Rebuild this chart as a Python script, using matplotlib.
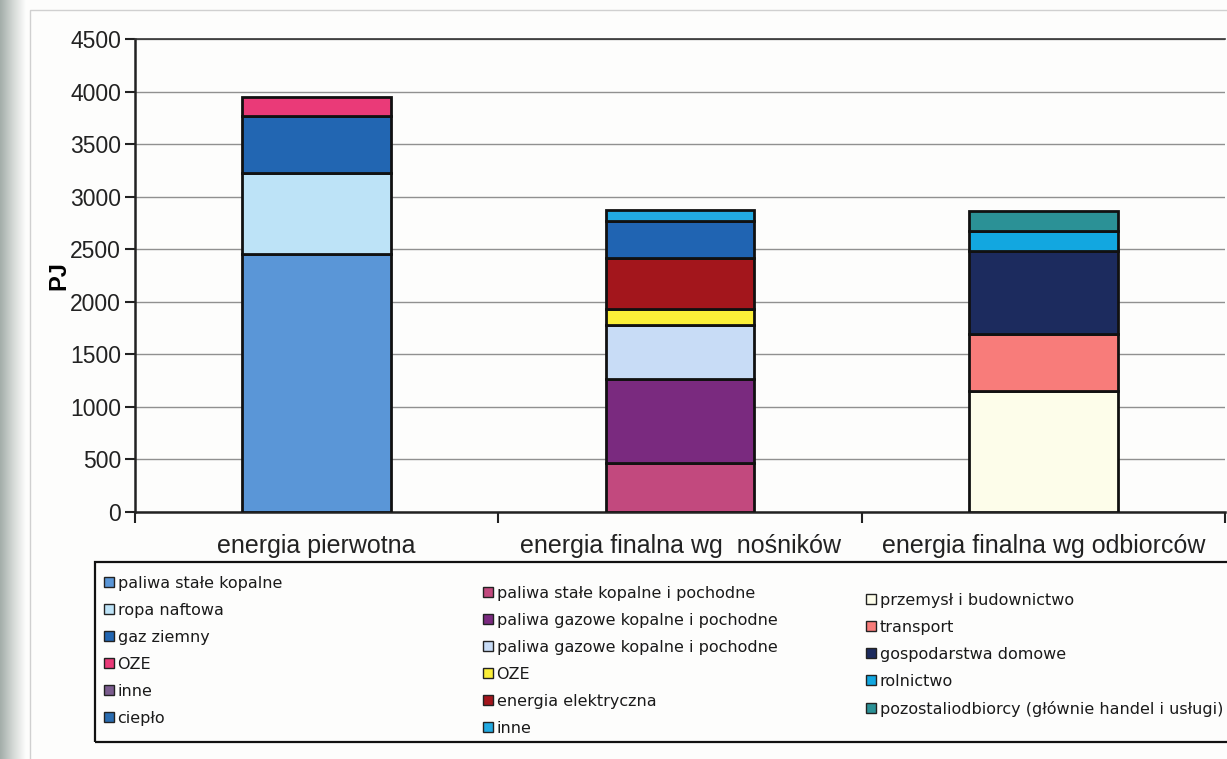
import numpy as np
import matplotlib
matplotlib.use("Agg")
import matplotlib.pyplot as plt
from matplotlib.patches import Patch, Rectangle

# --- data (PJ) ---
categories = ["energia pierwotna", "energia finalna wg  nośników", "energia finalna wg odbiorców"]

primary_labels = ["paliwa stałe kopalne", "ropa naftowa", "gaz ziemny", "OZE", "inne", "ciepło"]
primary_values = [2450, 775, 545, 180, 0, 0]
primary_colors = ["#5a96d7", "#bde3f7", "#2266b2", "#ea3a78", "#7b5c8e", "#2a6cb0"]

carrier_labels = ["paliwa stałe kopalne i pochodne", "paliwa gazowe kopalne i pochodne",
                  "paliwa gazowe kopalne i pochodne", "OZE", "energia elektryczna", "inne"]
carrier_stack_labels = ["paliwa stałe kopalne i pochodne", "paliwa gazowe kopalne i pochodne",
                        "paliwa gazowe kopalne i pochodne", "OZE", "energia elektryczna",
                        "ciepło", "inne"]
carrier_values = [470, 800, 510, 155, 480, 350, 105]
carrier_colors = ["#c2497e", "#7a2a7f", "#c8dcf6", "#fbef38", "#a3161c", "#2064b2", "#22aae2"]
carrier_legend_colors = ["#c2497e", "#7a2a7f", "#c8dcf6", "#fbef38", "#a3161c", "#22aae2"]

consumer_labels = ["przemysł i budownictwo", "transport", "gospodarstwa domowe", "rolnictwo",
                   "pozostaliodbiorcy (głównie handel i usługi)"]
consumer_values = [1155, 535, 790, 190, 190]
consumer_colors = ["#fdfdea", "#f87c7a", "#1c2b5e", "#12a7e0", "#2b9196"]

yticks = [0, 500, 1000, 1500, 2000, 2500, 3000, 3500, 4000, 4500]

# --- figure ---
W, H = 1227, 759
fig = plt.figure(figsize=(W / 100, H / 100), dpi=100)
fig.patch.set_facecolor("#fdfdfc")

# shaded binding strip on the left edge
strip = fig.add_axes([0, 0, 26 / W, 1])
grad = np.linspace(0, 1, 64)[None, :]
strip.imshow(grad, aspect="auto", cmap=matplotlib.colors.LinearSegmentedColormap.from_list(
    "strip", ["#a3ada9", "#d3d8d5", "#fdfdfc"]), extent=[0, 1, 0, 1])
strip.axis("off")

# outer chart frame
fig.add_artist(Rectangle((30 / W, -0.01), 1.05, 1 - 10 / H + 0.01, transform=fig.transFigure,
                         fill=False, edgecolor="#d0d0d0", linewidth=1.0))

ax = fig.add_axes([135 / W, 1 - 512 / H, 1090 / W, 473 / H])
ax.set_facecolor("none")

x = np.arange(len(categories))
width = 0.41
edge = dict(edgecolor="#111111", linewidth=2.0)

stacks = [(primary_values, primary_colors),
          (carrier_values, carrier_colors),
          (consumer_values, consumer_colors)]
for xi, (vals, cols) in zip(x, stacks):
    bottom = 0
    for v, c in zip(vals, cols):
        if v > 0:
            ax.bar(xi, v, width, bottom=bottom, color=c, zorder=3, **edge)
        bottom += v

ax.set_xlim(-0.5, 2.5)
ax.set_ylim(0, 4500)
ax.set_yticks(yticks)
ax.set_yticklabels([str(t) for t in yticks], fontsize=16.5, family="Liberation Sans", color="#222222")
ax.tick_params(axis="y", direction="out", length=7, width=1.5, pad=3, color="#222222")
ax.set_xticks(x)
ax.set_xticklabels(categories, fontsize=18, family="Liberation Sans", color="#222222")
ax.tick_params(axis="x", which="major", length=0, pad=16)
ax.set_xticks([-0.5, 0.5, 1.5, 2.5], minor=True)
ax.tick_params(axis="x", which="minor", direction="out", length=8, width=1.5, color="#222222")

ax.grid(axis="y", color="#909090", linewidth=1.0, zorder=0)
ax.spines["right"].set_visible(False)
ax.spines["top"].set_color("#333333")
ax.spines["top"].set_linewidth(1.2)
ax.spines["left"].set_color("#222222")
ax.spines["left"].set_linewidth(1.8)
ax.spines["bottom"].set_color("#222222")
ax.spines["bottom"].set_linewidth(1.8)

ax.set_ylabel("PJ", fontsize=17, fontweight="bold", family="Liberation Sans", labelpad=0)

# legend frame
fig.add_artist(Rectangle((95 / W, 1 - 742 / H), 1.2, (742 - 562) / H, transform=fig.transFigure,
                         fill=False, edgecolor="#111111", linewidth=1.6))


def column_legend(labels, colors, left_px, top_px):
    handles = [Patch(facecolor=c, edgecolor="#222222", linewidth=1.0) for c in colors]
    leg = fig.legend(handles, labels, loc="upper left",
                     bbox_to_anchor=(left_px / W, 1 - top_px / H),
                     frameon=False, handlelength=0.6, handleheight=0.6,
                     handletextpad=0.25, labelspacing=0.75, borderpad=0, borderaxespad=0,
                     prop={"family": "DejaVu Sans", "size": 11.5})
    for t in leg.get_texts():
        t.set_color("#1a1a1a")
    return leg


column_legend(primary_labels, primary_colors, 104, 576)
column_legend(carrier_labels, carrier_legend_colors, 483, 586)
column_legend(consumer_labels, consumer_colors, 866, 593)

fig.savefig("out.png", dpi=100, facecolor=fig.get_facecolor())
